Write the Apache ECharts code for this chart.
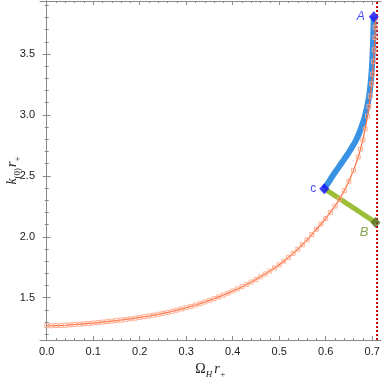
<!DOCTYPE html>
<html>
<head>
<meta charset="utf-8">
<script src="https://cdn.jsdelivr.net/npm/echarts@6/dist/echarts.min.js"></script>
<style>html,body{margin:0;padding:0;background:#fff}#c{width:382px;height:379px}</style>
</head>
<body>
<div id="c"></div>
<script>
// ---- data ----
const omegaOrange = [0.00,0.01,0.02,0.03,0.04,0.05,0.06,0.07,0.08,0.09,0.10,0.11,0.12,0.13,0.14,0.15,0.16,0.17,0.18,0.19,0.20,0.21,0.22,0.23,0.24,0.25,0.26,0.27,0.28,0.29,0.30,0.31,0.32,0.33,0.34,0.35,0.36,0.37,0.38,0.39,0.40,0.41,0.42,0.43,0.44,0.45,0.46,0.47,0.48,0.49,0.50,0.51,0.52,0.53,0.54,0.55,0.56,0.57,0.58,0.59,0.60,0.61,0.62,0.63,0.64,0.65,0.66,0.67,0.675,0.68,0.685,0.69,0.693,0.696,0.699,0.701,0.703,0.7045,0.7058,0.7066,0.7071];
const kOrange     = [1.270,1.270,1.271,1.272,1.274,1.277,1.280,1.283,1.286,1.289,1.292,1.296,1.300,1.304,1.308,1.312,1.317,1.322,1.327,1.332,1.338,1.344,1.350,1.357,1.364,1.372,1.380,1.389,1.398,1.408,1.418,1.429,1.440,1.452,1.465,1.478,1.492,1.507,1.522,1.538,1.555,1.572,1.590,1.609,1.629,1.650,1.672,1.695,1.719,1.744,1.770,1.800,1.831,1.864,1.898,1.935,1.975,2.018,2.062,2.105,2.150,2.200,2.252,2.310,2.378,2.455,2.545,2.655,2.720,2.795,2.885,2.990,3.070,3.155,3.255,3.335,3.440,3.535,3.635,3.720,3.800];
const omegaBlue = [0.597,0.605,0.615,0.625,0.635,0.645,0.655,0.665,0.675,0.683,0.690,0.695,0.699,0.7015,0.7035];
const kBlue     = [2.395,2.440,2.500,2.555,2.610,2.665,2.725,2.790,2.880,2.970,3.080,3.200,3.360,3.550,3.806];
const omegaGreen = [0.597,0.7071];
const kGreen     = [2.395,2.118];
const pointNames = ['A','c','B'];
const pointOmega = [0.7035,0.597,0.7071];
const pointK     = [3.806,2.395,2.118];
const extremalOmega = 0.7071;
const xTickValues = [0,0.1,0.2,0.3,0.4,0.5,0.6,0.7];
const xTickLabels = ['0.0','0.1','0.2','0.3','0.4','0.5','0.6','0.7'];
const yTickValues = [1.5,2.0,2.5,3.0,3.5];
const yTickLabels = ['1.5','2.0','2.5','3.0','3.5'];

// ---- chart ----
const XMIN=-0.0144, XMAX=0.719, YMIN=1.153, YMAX=3.935;
const xMinor=[]; for(let i=0;i<=36;i++){const v=+(i*0.02).toFixed(2); if(v<=XMAX && Math.abs(v*10-Math.round(v*10))>1e-6) xMinor.push(v);}
const yMinor=[]; for(let i=12;i<=39;i++){const v=+(i*0.1).toFixed(1); if(v>=YMIN && v<=YMAX && Math.abs(v*2-Math.round(v*2))>1e-6) yMinor.push(v);}
const AX='#8a8a8a', TX='#222';
function axisBase(extra){return Object.assign({type:'value',splitLine:{show:false},axisLine:{show:false,lineStyle:{color:AX}},axisLabel:{show:false},axisTick:{show:true,inside:true,lineStyle:{color:AX,width:1}}},extra);}
const labelMap={}; xTickValues.forEach((v,i)=>labelMap['x'+v]=xTickLabels[i]); yTickValues.forEach((v,i)=>labelMap['y'+v]=yTickLabels[i]);
const serif='"Liberation Serif","DejaVu Serif",serif';
const sans='"Liberation Sans",Arial,sans-serif';
const xAxes=[
 axisBase({min:XMIN,max:XMAX,position:'bottom',axisLine:{show:true,lineStyle:{color:AX,width:1}},
   axisTick:{show:true,inside:true,length:4,customValues:xTickValues,lineStyle:{color:AX}},
   axisLabel:{show:true,customValues:xTickValues,margin:6,color:TX,fontSize:11,fontFamily:sans,formatter:v=>labelMap['x'+(+v.toFixed(2))]||''},
   name:'{o|Ω}{s|H}{r|r}{s|+}',nameLocation:'middle',nameGap:19,
   nameTextStyle:{rich:{o:{fontFamily:serif,fontSize:14,color:TX,verticalAlign:'middle',lineHeight:20},r:{fontFamily:serif,fontStyle:'italic',fontSize:14,color:TX,verticalAlign:'middle',lineHeight:20,padding:[0,0,0,2]},s:{fontFamily:serif,fontStyle:'italic',fontSize:9,color:TX,verticalAlign:'bottom',lineHeight:20,padding:[8,0,0,0]}}}}),
 axisBase({min:XMIN,max:XMAX,position:'bottom',axisTick:{show:true,inside:true,length:2,customValues:xMinor,lineStyle:{color:AX}}}),
 axisBase({min:XMIN,max:XMAX,position:'top',axisLine:{show:true,lineStyle:{color:AX,width:1}},axisTick:{show:true,inside:true,length:4,customValues:xTickValues,lineStyle:{color:AX}}}),
 axisBase({min:XMIN,max:XMAX,position:'top',axisTick:{show:true,inside:true,length:2,customValues:xMinor,lineStyle:{color:AX}}})
];
const yAxes=[
 axisBase({min:YMIN,max:YMAX,position:'left',axisLine:{show:true,lineStyle:{color:AX,width:1}},
   axisTick:{show:true,inside:true,length:4,customValues:yTickValues,lineStyle:{color:AX}},
   axisLabel:{show:true,customValues:yTickValues,margin:5,color:TX,fontSize:11,fontFamily:sans,formatter:v=>labelMap['y'+(+v.toFixed(2))]||''},
   name:'{k|k}{s|(0)}{r|r}{s2|+}',nameLocation:'middle',nameGap:18,nameRotate:90,nameMoveOverlap:false,
   nameTextStyle:{rich:{k:{fontFamily:serif,fontStyle:'italic',fontSize:14,color:TX,verticalAlign:'middle',lineHeight:20},r:{fontFamily:serif,fontStyle:'italic',fontSize:14,color:TX,verticalAlign:'middle',lineHeight:20,padding:[0,0,0,1]},s:{fontFamily:serif,fontSize:9,color:TX,verticalAlign:'bottom',lineHeight:20,padding:[8,0,0,0]},s2:{fontFamily:serif,fontSize:9,color:TX,verticalAlign:'bottom',lineHeight:20,padding:[8,0,0,0]}}}}),
 axisBase({min:YMIN,max:YMAX,position:'left',axisTick:{show:true,inside:true,length:2,customValues:yMinor,lineStyle:{color:AX}}}),
 axisBase({min:YMIN,max:YMAX,position:'right',axisLine:{show:true,lineStyle:{color:AX,width:1}},axisTick:{show:true,inside:true,length:4,customValues:yTickValues,lineStyle:{color:AX}}}),
 axisBase({min:YMIN,max:YMAX,position:'right',axisTick:{show:true,inside:true,length:2,customValues:yMinor,lineStyle:{color:AX}}})
];
const zip=(a,b)=>a.map((v,i)=>[v,b[i]]);
const pointColors={A:'#1010ff',c:'#1010ff',B:'#556b22'};
const labelColors={A:'#1a1aff',c:'#1a1aff',B:'#6b8e23'};
const labelPos={A:{position:'left',distance:4,fontStyle:'italic',fontFamily:sans,fontSize:12},
                c:{position:'left',distance:3,fontFamily:sans,fontSize:12},
                B:{position:'left',distance:0,offset:[-2,10],fontStyle:'italic',fontFamily:sans,fontSize:13}};
const chart=echarts.init(document.getElementById('c'),null,{renderer:'canvas'});
chart.setOption({
 animation:false,
 grid:{left:40,right:1,top:1,bottom:39,containLabel:false,outerBoundsMode:'none'},
 xAxis:xAxes, yAxis:yAxes,
 series:[
  {type:'line',data:zip(omegaBlue,kBlue),smooth:0.3,symbol:'none',lineStyle:{color:'#3a92e4',width:6},z:2,
   markLine:{silent:true,symbol:'none',label:{show:false},lineStyle:{color:'#cc0000',width:2,type:[2,2]},data:[{xAxis:extremalOmega}],z:1}},
  {type:'line',data:zip(omegaGreen,kGreen),symbol:'none',lineStyle:{color:'#9cbd36',width:5},z:3},
  {type:'line',data:zip(omegaOrange,kOrange),smooth:false,symbol:'rect',symbolSize:4,showSymbol:true,
   lineStyle:{color:'#ff6a3a',width:1.2},itemStyle:{color:'rgba(255,255,255,0)',borderColor:'#ffa688',borderWidth:0.9},z:4},
  {type:'scatter',data:pointNames.map((n,i)=>({name:n,value:[pointOmega[i],pointK[i]],itemStyle:{color:pointColors[n]},
     label:Object.assign({show:true,formatter:n,color:labelColors[n]},labelPos[n])})),
   symbol:'diamond',symbolSize:[10,11],z:6}
 ]
});
</script>
</body>
</html>
